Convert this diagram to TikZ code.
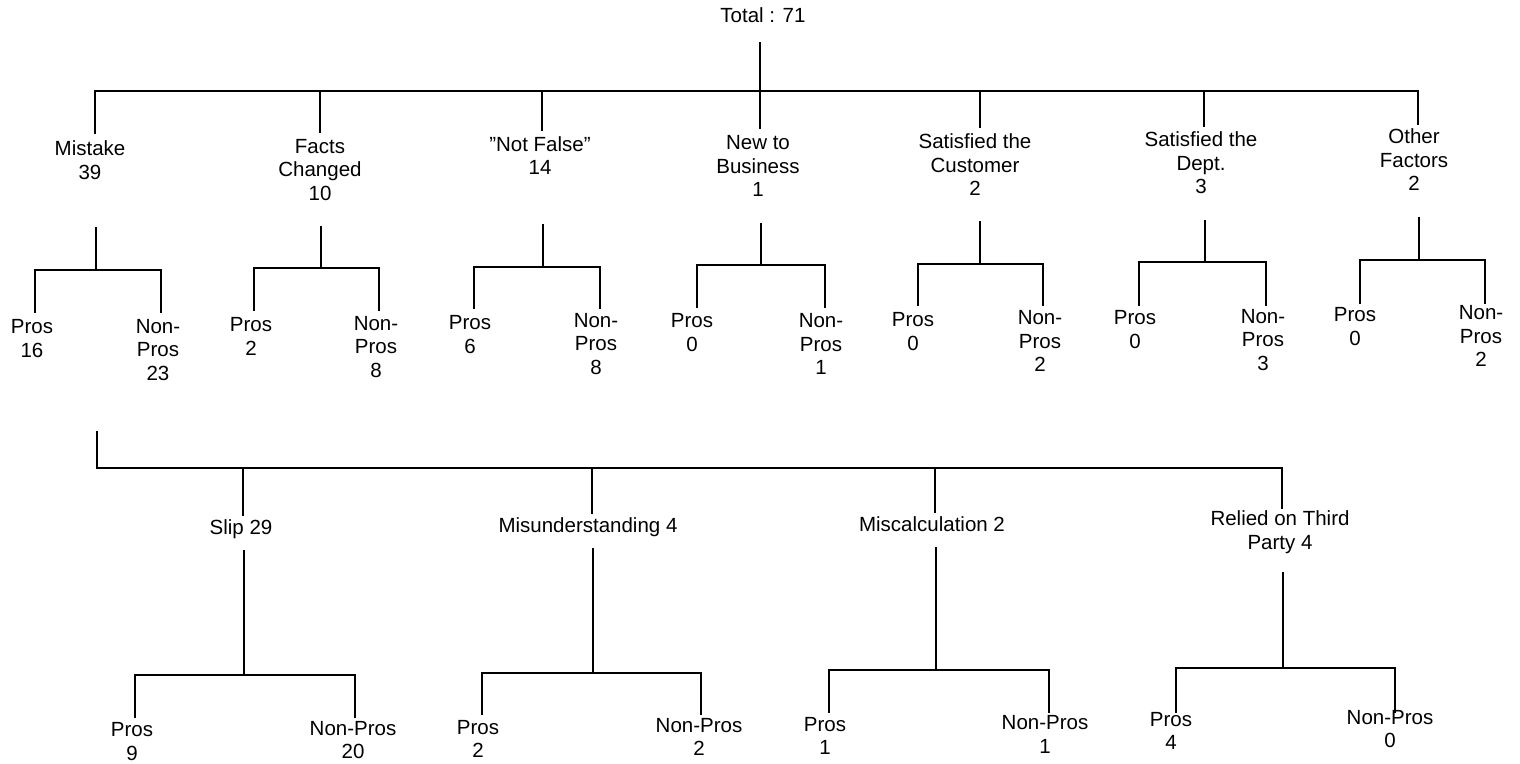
\documentclass[tikz,border=0pt]{standalone}
\usepackage{fontspec}
\setmainfont{Liberation Sans}
\begin{document}
\begin{tikzpicture}[x=1pt,y=-1pt,
  lbl/.style={inner sep=0pt, align=center, font=\fontsize{20.5}{23.5}\selectfont},
  ln/.style={line width=1.3pt, line cap=rect}]
\useasboundingbox (0,0) rectangle (1520,763);

% ---------- top ----------
\node[lbl] (total) at (763,15) {Total : 71};
\coordinate (t0) at (760,43);
\coordinate (busL) at (95,91);
\coordinate (busR) at (1418,91);
\coordinate (busM) at (760,91);
\draw[ln] (t0) -- (busM);
\draw[ln] (busL) -- (busR);

% level 1 labels
\node[lbl] (mistake) at (90,160) {Mistake\\39};
\node[lbl] (facts) at (320,170) {Facts\\Changed\\10};
\node[lbl] (notfalse) at (540,155.5) {''Not False''\\14};
\node[lbl] (newbus) at (758,166) {New to\\Business\\1};
\node[lbl] (cust) at (975,165) {Satisfied the\\Customer\\2};
\node[lbl] (dept) at (1201,163) {Satisfied the\\Dept.\\3};
\node[lbl] (other) at (1414,160) {Other\\Factors\\2};

% drops from bus
\coordinate (dA) at (95,133);  \draw[ln] (busL) -- (dA);
\coordinate (bB) at (320,91);  \coordinate (dB) at (320,132);  \draw[ln] (bB) -- (dB);
\coordinate (bC) at (542,91);  \coordinate (dC) at (542,130);  \draw[ln] (bC) -- (dC);
\coordinate (dD) at (760,128); \draw[ln] (busM) -- (dD);
\coordinate (bE) at (980,91);  \coordinate (dE) at (980,127);  \draw[ln] (bE) -- (dE);
\coordinate (bF) at (1204,91); \coordinate (dF) at (1204,126); \draw[ln] (bF) -- (dF);
\coordinate (dG) at (1418,124); \draw[ln] (busR) -- (dG);

% level 2 brackets: stem top, junction, left, right, left end, right end
% A
\coordinate (sA) at (96,228); \coordinate (jA) at (96,270);
\coordinate (lA) at (35,270); \coordinate (rA) at (161,270);
\coordinate (leA) at (35,312); \coordinate (reA) at (161,312);
\draw[ln] (sA) -- (jA);
\draw[ln] (leA) -- (lA) -- (rA) -- (reA);
\node[lbl] (pA) at (32,338.5) {Pros\\16};
\node[lbl] (nA) at (158,350) {Non-\\Pros\\23};
% B
\coordinate (sB) at (321,227); \coordinate (jB) at (321,268);
\coordinate (lB) at (254,268); \coordinate (rB) at (379,268);
\coordinate (leB) at (254,310); \coordinate (reB) at (379,310);
\draw[ln] (sB) -- (jB);
\draw[ln] (leB) -- (lB) -- (rB) -- (reB);
\node[lbl] (pB) at (251,336.5) {Pros\\2};
\node[lbl] (nB) at (376,347) {Non-\\Pros\\8};
% C
\coordinate (sC) at (543,225); \coordinate (jC) at (543,267);
\coordinate (lC) at (474,267); \coordinate (rC) at (600,267);
\coordinate (leC) at (474,308); \coordinate (reC) at (600,308);
\draw[ln] (sC) -- (jC);
\draw[ln] (leC) -- (lC) -- (rC) -- (reC);
\node[lbl] (pC) at (470,334.5) {Pros\\6};
\node[lbl] (nC) at (596,344) {Non-\\Pros\\8};
% D
\coordinate (sD) at (761,224); \coordinate (jD) at (761,265);
\coordinate (lD) at (697,265); \coordinate (rD) at (825,265);
\coordinate (leD) at (697,307); \coordinate (reD) at (825,307);
\draw[ln] (sD) -- (jD);
\draw[ln] (leD) -- (lD) -- (rD) -- (reD);
\node[lbl] (pD) at (692,332.5) {Pros\\0};
\node[lbl] (nD) at (821,344) {Non-\\Pros\\1};
% E
\coordinate (sE) at (980,222); \coordinate (jE) at (980,264);
\coordinate (lE) at (918,264); \coordinate (rE) at (1043,264);
\coordinate (leE) at (918,305); \coordinate (reE) at (1043,305);
\draw[ln] (sE) -- (jE);
\draw[ln] (leE) -- (lE) -- (rE) -- (reE);
\node[lbl] (pE) at (913,331.5) {Pros\\0};
\node[lbl] (nE) at (1040,341) {Non-\\Pros\\2};
% F
\coordinate (sF) at (1205,221); \coordinate (jF) at (1205,262);
\coordinate (lF) at (1139,262); \coordinate (rF) at (1266,262);
\coordinate (leF) at (1139,305); \coordinate (reF) at (1266,305);
\draw[ln] (sF) -- (jF);
\draw[ln] (leF) -- (lF) -- (rF) -- (reF);
\node[lbl] (pF) at (1135,329.5) {Pros\\0};
\node[lbl] (nF) at (1263,340) {Non-\\Pros\\3};
% G
\coordinate (sG) at (1419,218); \coordinate (jG) at (1419,260);
\coordinate (lG) at (1360,260); \coordinate (rG) at (1485,260);
\coordinate (leG) at (1360,303); \coordinate (reG) at (1485,303);
\draw[ln] (sG) -- (jG);
\draw[ln] (leG) -- (lG) -- (rG) -- (reG);
\node[lbl] (pG) at (1355,326.5) {Pros\\0};
\node[lbl] (nG) at (1481,336) {Non-\\Pros\\2};

% ---------- level 3 (Mistake breakdown) ----------
\coordinate (m0) at (97,432);
\coordinate (mbL) at (97,468);
\coordinate (mbR) at (1282,468);
\draw[ln] (m0) -- (mbL) -- (mbR);

\node[lbl] (slip) at (241,529) {Slip 29};
\node[lbl] (misu) at (588,527) {Misunderstanding 4};
\node[lbl] (misc) at (932,524) {Miscalculation 2};
\node[lbl] (reli) at (1280,532) {Relied on Third\\Party 4};

\coordinate (bS) at (243,468); \coordinate (dS) at (243,515); \draw[ln] (bS) -- (dS);
\coordinate (bU) at (592,468); \coordinate (dU) at (592,513); \draw[ln] (bU) -- (dU);
\coordinate (bM) at (935,468); \coordinate (dM) at (935,512); \draw[ln] (bM) -- (dM);
\coordinate (dR) at (1282,508); \draw[ln] (mbR) -- (dR);

% Slip
\coordinate (sS) at (244,551); \coordinate (jS) at (244,675);
\coordinate (lS) at (135,675); \coordinate (rS) at (355,675);
\coordinate (leS) at (135,717); \coordinate (reS) at (355,717);
\draw[ln] (sS) -- (jS);
\draw[ln] (leS) -- (lS) -- (rS) -- (reS);
\node[lbl] (pS) at (132,741.5) {Pros\\9};
\node[lbl] (nS) at (353,740) {Non-Pros\\20};
% Misunderstanding
\coordinate (sU) at (593,549); \coordinate (jU) at (593,673);
\coordinate (lU) at (482,673); \coordinate (rU) at (701,673);
\coordinate (leU) at (482,714); \coordinate (reU) at (701,714);
\draw[ln] (sU) -- (jU);
\draw[ln] (leU) -- (lU) -- (rU) -- (reU);
\node[lbl] (pU) at (478,739) {Pros\\2};
\node[lbl] (nU) at (699,737) {Non-Pros\\2};
% Miscalculation
\coordinate (sM) at (936,548); \coordinate (jM) at (936,670);
\coordinate (lM) at (829,670); \coordinate (rM) at (1049,670);
\coordinate (leM) at (829,712); \coordinate (reM) at (1049,712);
\draw[ln] (sM) -- (jM);
\draw[ln] (leM) -- (lM) -- (rM) -- (reM);
\node[lbl] (pM) at (825,736) {Pros\\1};
\node[lbl] (nM) at (1045,734.5) {Non-Pros\\1};
% Relied
\coordinate (sR) at (1283,573); \coordinate (jR) at (1283,668);
\coordinate (lR) at (1176,668); \coordinate (rR) at (1395,668);
\coordinate (leR) at (1176,712); \coordinate (reR) at (1395,712);
\draw[ln] (sR) -- (jR);
\draw[ln] (leR) -- (lR) -- (rR) -- (reR);
\node[lbl] (pR) at (1171,731) {Pros\\4};
\node[lbl] (nR) at (1390,729) {Non-Pros\\0};
\end{tikzpicture}
\end{document}
